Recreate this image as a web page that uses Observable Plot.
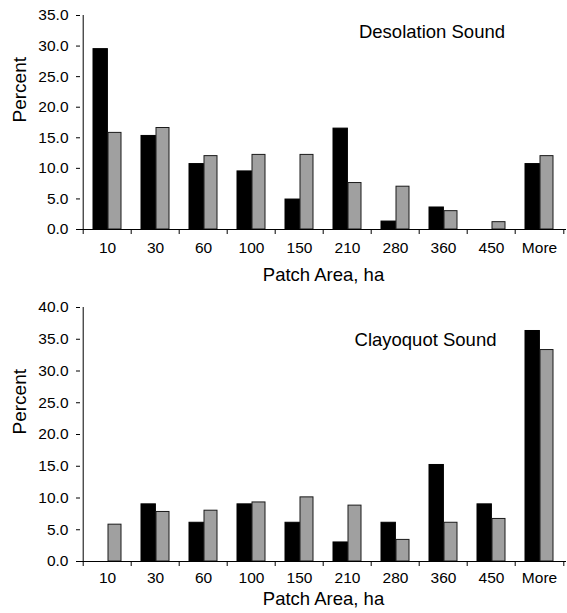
<!DOCTYPE html>
<html>
<head>
<meta charset="utf-8">
<script src="https://cdn.jsdelivr.net/npm/d3@7"></script>
<script src="https://cdn.jsdelivr.net/npm/@observablehq/plot@0.6"></script>
<style>
  html, body { margin: 0; padding: 0; background: #fff; }
  #chart svg { display: block; }
</style>
</head>
<body>
<div id="chart"></div>
<script>
const categories = ["10", "30", "60", "100", "150", "210", "280", "360", "450", "More"];
const desolationBlack = [29.5, 15.3, 10.7, 9.5, 4.9, 16.5, 1.3, 3.6, 0, 10.7];
const desolationGray  = [15.8, 16.6, 12.0, 12.2, 12.2, 7.6, 7.0, 3.0, 1.2, 12.0];
const clayoquotBlack  = [0, 9.0, 6.1, 9.0, 6.1, 3.0, 6.1, 15.2, 9.0, 36.3];
const clayoquotGray   = [5.8, 7.8, 8.0, 9.3, 10.1, 8.8, 3.4, 6.1, 6.7, 33.3];
const yTicksTop = [0, 5, 10, 15, 20, 25, 30, 35];
const yTicksBottom = [0, 5, 10, 15, 20, 25, 30, 35, 40];

const W = 567, ML = 80, MR = 1;
const bw = (W - ML - MR) / categories.length;
const FONT = "'Liberation Sans', Arial, Helvetica, sans-serif";

function chart({title, black, gray, yMax, yTicks, height, marginTop, marginBottom, titleDx, titleDy, tickPad, labelDy}) {
  const blackRows = categories.map((c, i) => ({cat: c, v: black[i]})).filter(d => d.v > 0);
  const grayRows = categories.map((c, i) => ({cat: c, v: gray[i]})).filter(d => d.v > 0);
  return Plot.plot({
    width: W, height, marginLeft: ML, marginRight: MR, marginTop, marginBottom,
    style: {fontFamily: FONT, color: "#000", background: "#fff"},
    x: {type: "band", domain: categories, padding: 0},
    y: {domain: [0, yMax]},
    marks: [
      Plot.barY(blackRows, {x: "cat", y: "v", fill: "#000", stroke: "#000", strokeWidth: 1, insetLeft: 10, insetRight: bw - 25}),
      Plot.barY(grayRows, {x: "cat", y: "v", fill: "#a0a0a0", stroke: "#1a1a1a", strokeWidth: 1, insetLeft: 25, insetRight: 10}),
      Plot.ruleY([0], {stroke: "#000"}),
      Plot.ruleX([categories[0]], {dx: -bw / 2, stroke: "#000"}),
      Plot.axisY({ticks: yTicks, tickFormat: d3.format(".1f"), tickSize: 4, tickPadding: 8, fontSize: 15.5, label: null, stroke: "#000"}),
      Plot.axisX({tickSize: 0, tickPadding: tickPad, fontSize: 15.5, label: null}),
      Plot.ruleX(categories, {x: d => d, y1: () => 0, y2: () => 0, insetBottom: -5, dx: -bw / 2, stroke: "#000", strokeWidth: 1}),
      Plot.ruleX(["More"], {x: d => d, y1: () => 0, y2: () => 0, insetBottom: -5, dx: bw / 2, stroke: "#000", strokeWidth: 1}),
      Plot.text([title], {frameAnchor: "top", dx: titleDx, dy: titleDy, lineAnchor: "middle", fontSize: 18.5, fill: "#000"}),
      Plot.text(["Percent"], {frameAnchor: "left", dx: -61, rotate: -90, lineAnchor: "middle", fontSize: 19, fill: "#000"}),
      Plot.text(["Patch Area, ha"], {frameAnchor: "bottom", dy: labelDy, lineAnchor: "top", fontSize: 18.5, fill: "#000"})
    ]
  });
}

const root = document.getElementById("chart");
root.append(chart({
  title: "Desolation Sound", black: desolationBlack, gray: desolationGray,
  yMax: 35, yTicks: yTicksTop, height: 290, marginTop: 15, marginBottom: 61,
  titleDx: 108.5, titleDy: 16.3, tickPad: 12, labelDy: 38
}));
root.append(chart({
  title: "Clayoquot Sound", black: clayoquotBlack, gray: clayoquotGray,
  yMax: 40, yTicks: yTicksBottom, height: 323, marginTop: 17, marginBottom: 52,
  titleDx: 102, titleDy: 32.5, tickPad: 10.5, labelDy: 30
}));
</script>
</body>
</html>
